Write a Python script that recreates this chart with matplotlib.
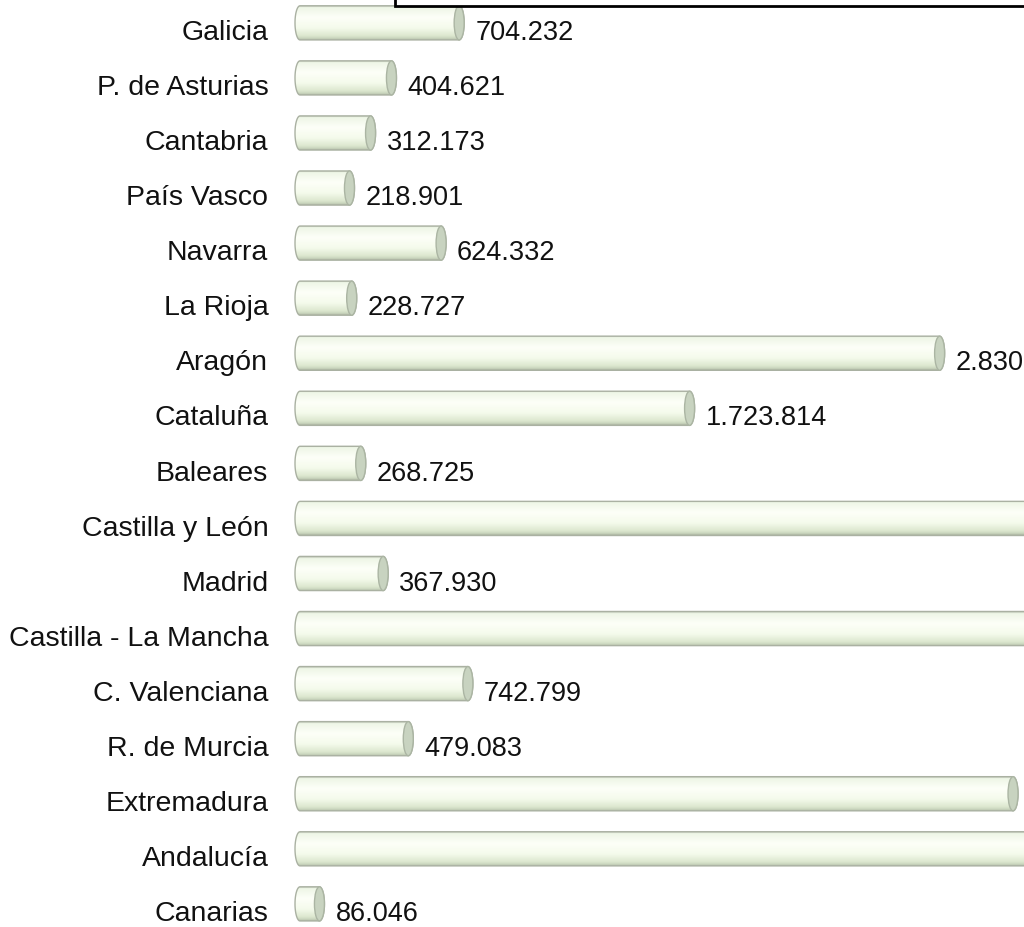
import numpy as np
import matplotlib.pyplot as plt
from matplotlib.patches import Ellipse, Rectangle, Path, PathPatch
from matplotlib.colors import LinearSegmentedColormap

plt.rcParams['font.family'] = ['Liberation Sans', 'DejaVu Sans']

# regions, top to bottom
regiones = ["Galicia", "P. de Asturias", "Cantabria", "País Vasco", "Navarra",
            "La Rioja", "Aragón", "Cataluña", "Baleares", "Castilla y León",
            "Madrid", "Castilla - La Mancha", "C. Valenciana", "R. de Murcia",
            "Extremadura", "Andalucía", "Canarias"]
valores = [704232, 404621, 312173, 218901, 624332,
           228727, 2830152, 1723814, 268725, 4180000,
           367930, 3950000, 742799, 479083,
           3155000, 3620000, 86046]

def fmt(v):
    return f"{v:,}".replace(",", ".")

fig = plt.figure(figsize=(10.24, 9.27), dpi=100)
# axes starts a bit left of the zero line so the rounded left ends show
ax = fig.add_axes([285 / 1024, 0, 1 - 285 / 1024, 1])

px = 0.000226          # pixels per unit
ax.set_xlim(-15 / px, (1024 - 300) / px)
ax.set_ylim(16.29, -0.545)

# body gradient (top -> bottom)
grad = LinearSegmentedColormap.from_list("cyl", [
    (0.0, "#b4bcac"), (0.06, "#eef6e6"), (0.35, "#fdfff8"),
    (0.65, "#f5fbec"), (0.88, "#dde8d0"), (0.96, "#c9d5bd"), (1.0, "#b0baa6")])
g = np.linspace(0, 1, 64).reshape(-1, 1)

h = 0.62               # bar height in rows
off = 0.13             # bars sit slightly above label line
cap_w = 10 / px        # end-cap width in data units

for i, v in enumerate(valores):
    yc = i - off
    top, bot = yc - h / 2, yc + h / 2
    # outline path: left rounded end + straight body to right end
    verts = []
    t = np.linspace(np.pi / 2, 3 * np.pi / 2, 30)
    for a in t:
        verts.append((np.cos(a) * cap_w / 2, yc - np.sin(a) * h / 2))
    t2 = np.linspace(-np.pi / 2, np.pi / 2, 30)
    for a in t2:
        verts.append((v + np.cos(a) * cap_w / 2, yc - np.sin(a) * h / 2))
    verts.append(verts[0])
    codes = [Path.MOVETO] + [Path.LINETO] * (len(verts) - 2) + [Path.CLOSEPOLY]
    clip = PathPatch(Path(verts, codes), facecolor="none", edgecolor="none")
    ax.add_patch(clip)
    im = ax.imshow(g, cmap=grad, aspect="auto", interpolation="bilinear",
                   extent=(-cap_w, v + cap_w, bot, top), zorder=2)
    im.set_clip_path(clip)
    ax.add_patch(PathPatch(Path(verts, codes), facecolor="none",
                           edgecolor="#aab1a2", lw=1.0, zorder=3))
    # right end cap
    ax.add_patch(Ellipse((v, yc), cap_w, h, facecolor="#c8d3c0",
                         edgecolor="#abb5a3", lw=1.0, zorder=4))
    ax.text(v + cap_w / 2 + 11 / px, i, fmt(v), fontsize=19.5,
            va="center_baseline", ha="left", color="#111111", zorder=5,
            clip_on=False)

ax.set_yticks(range(len(regiones)))
ax.set_yticklabels(regiones, fontsize=20.5, color="#111111")
ax.tick_params(axis="y", length=0, pad=12)
ax.set_xticks([])
for s in ax.spines.values():
    s.set_visible(False)

# partially visible title box at the top
fig.patches.append(Rectangle((395 / 1024, 1 - 6 / 927), 1.0, 0.05,
                             transform=fig.transFigure, facecolor="white",
                             edgecolor="black", lw=2.0, zorder=10))

fig.savefig("out.png", dpi=100)
